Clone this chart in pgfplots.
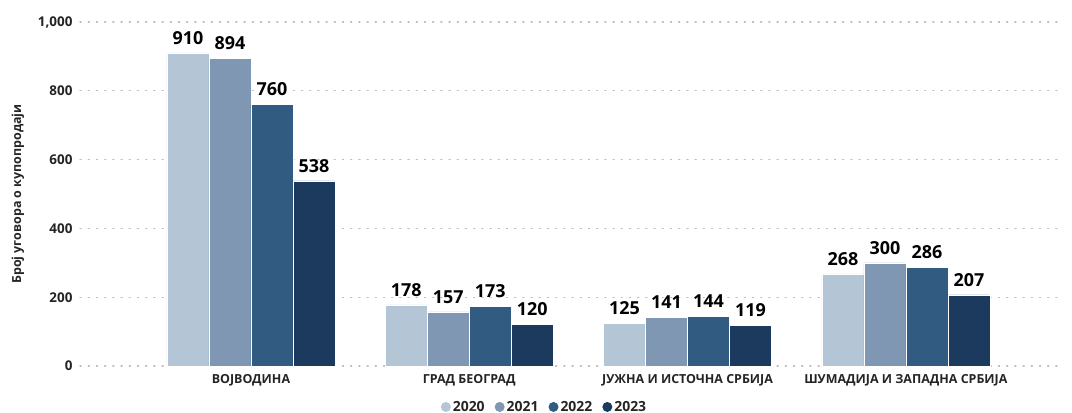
\documentclass[border=0pt]{standalone}
\usepackage{fontspec}
\setmainfont{Open Sans}
\usepackage{pgfplots}
\pgfplotsset{compat=1.18}
\definecolor{cA}{HTML}{B4C6D6}
\definecolor{cB}{HTML}{7F97B3}
\definecolor{cC}{HTML}{325B81}
\definecolor{cD}{HTML}{1C3A5E}
\definecolor{txt}{HTML}{252423}
\definecolor{gridc}{HTML}{BEBEBE}
\begin{document}
\begin{tikzpicture}
\begin{axis}[
  scale only axis,
  width=980bp, height=344bp,
  ymin=0, ymax=1000,
  xmin=-0.783, xmax=3.706,
  ybar=0pt, bar width=42bp,
  axis line style={draw=none},
  major tick length=0pt,
  ytick={0,200,400,600,800,1000},
  ymajorgrids,
  grid style={gridc, line width=1.2bp, dash pattern=on 1.2bp off 7bp, line cap=round},
  xtick={0,1,2,3},
  xticklabels={ВОЈВОДИНА, ГРАД БЕОГРАД, ЈУЖНА И ИСТОЧНА СРБИЈА, ШУМАДИЈА И ЗАПАДНА СРБИЈА},
  /pgf/number format/assume math mode=true,
  /pgf/number format/1000 sep={,},
  yticklabel style={font=\fontsize{13.5}{15}\selectfont\bfseries, text=txt, xshift=-4bp},
  xticklabel style={font=\fontsize{12.5}{14}\selectfont\bfseries, text=txt, yshift=-5bp},
  ylabel={Број уговора о купопродаји},
  every axis y label/.style={at={(axis description cs:-0.0633,0.5)}, rotate=90, anchor=center,
     font=\fontsize{12.5}{14}\selectfont\bfseries, text=txt},
  nodes near coords,
  nodes near coords style={font=\fontsize{18}{20}\selectfont\bfseries, text=black, anchor=south, yshift=5bp},
  legend columns=4,
  legend style={draw=none, fill=none, at={(axis description cs:0.474,-0.119)}, anchor=center,
    font=\fontsize{14}{16}\selectfont\bfseries, text=txt,
    /tikz/every even column/.append style={column sep=8bp}},
  legend image code/.code={\fill[#1,draw=none] (5bp,0bp) circle (5bp);},
  clip=false,
]
\addplot[fill=cA, draw=white, line width=0.5bp] coordinates {(0,910) (1,178) (2,125) (3,268)};
\addplot[fill=cB, draw=white, line width=0.5bp] coordinates {(0,894) (1,157) (2,141) (3,300)};
\addplot[fill=cC, draw=white, line width=0.5bp] coordinates {(0,760) (1,173) (2,144) (3,286)};
\addplot[fill=cD, draw=white, line width=0.5bp] coordinates {(0,538) (1,120) (2,119) (3,207)};
\legend{2020,2021,2022,2023}
\end{axis}
\pgfresetboundingbox
\path (-80bp,-47bp) rectangle (992bp,366bp);
\end{tikzpicture}
\end{document}
